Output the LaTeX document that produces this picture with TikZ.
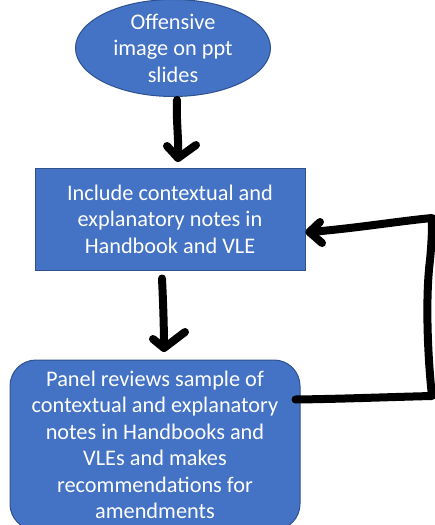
\documentclass[tikz,border=0pt]{standalone}
\usepackage{fontspec}
\setmainfont{Carlito}
\usetikzlibrary{shapes.geometric}
\definecolor{boxfill}{HTML}{4472C4}
\definecolor{boxline}{HTML}{2F528F}
\tikzset{
  boxbase/.style={fill=boxfill, draw=boxline, line width=1pt, text=white, align=center,
    font=\fontsize{22.3}{26.5}\selectfont, inner sep=0pt},
  ellbox/.style={boxbase, ellipse, minimum width=195pt, minimum height=84pt},
  rectbox/.style={boxbase, rectangle, minimum width=270pt, minimum height=102pt},
  roundbox/.style={boxbase, rectangle, rounded corners=26pt, minimum width=290pt, minimum height=170pt},
  hand/.style={draw=black, line width=8pt, line cap=round, line join=round}
}
\begin{document}
\begin{tikzpicture}[x=1pt,y=-1pt]
\useasboundingbox (0,0) rectangle (435,525);
\begin{scope}
\clip (0,0) rectangle (435,525);
\node[ellbox] (ell) at (173,48) {Offensive\\image on ppt\\slides};
\node[rectbox] (rect) at (170,219) {\raisebox{3pt}{\parbox{260pt}{\centering Include contextual and\\explanatory notes in\\Handbook and VLE}}};
\node[roundbox] (rr) at (155,445) {Panel reviews sample of\\contextual and explanatory\\notes in Handbooks and\\VLEs and makes\\recommendations for\\amendments};
% arrow 1
\draw[hand] ([xshift=4pt,yshift=-3pt]ell.south) .. controls (176,120) and (179,140) .. (178,158) coordinate (t1);
\draw[hand] (167,146) -- (t1) -- (196,145);
% arrow 2
\draw[hand] ([xshift=-8pt,yshift=-8pt]rect.south) .. controls (163,300) and (164,325) .. (164,348) coordinate (t2);
\draw[hand] (153,339) -- (t2) -- (185,332);
% feedback
\draw[hand] ([xshift=-5pt,yshift=-40pt]rr.north east) .. controls (340,399) and (390,397) .. (432,396)
  .. controls (428,360) and (425,300) .. (430,260) .. controls (432,240) and (432,228) .. (432,218)
  .. controls (400,221) and (350,229) .. ([xshift=4pt,yshift=-13pt]rect.east) coordinate (t3);
\draw[hand] (320,222) -- (t3) -- (322,243);
\end{scope}
\end{tikzpicture}
\end{document}
